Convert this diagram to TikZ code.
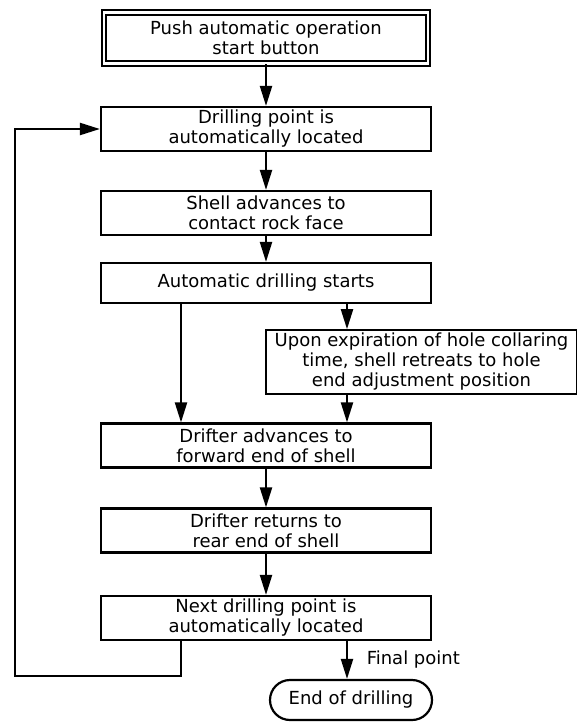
\documentclass[tikz,border=0pt]{standalone}
\usepackage{fontspec}
\setmainfont{DejaVu Sans}
\usetikzlibrary{arrows.meta,shapes.misc}
\tikzset{
  stage/.style={draw,line width=1.1pt,align=center,inner sep=1.5pt,minimum width=165pt,minimum height=22pt,font=\fontsize{9}{10}\selectfont},
  startbox/.style={stage,line width=1pt,double,double distance=1.4pt,minimum width=162pt,minimum height=25.5pt},
  terminal/.style={stage,rounded rectangle,minimum width=84pt,minimum height=20pt},
  stream/.style={line width=1.1pt,-{Triangle[length=10pt,width=6pt]}}
}

\begin{document}
\begin{tikzpicture}[x=0.5pt,y=-0.5pt]
      \useasboundingbox (0,0) rectangle (577,722);
      \node[startbox] (push) at (266,38) {Push automatic operation\\start button};
      \node[stage] (locate) at (266,129) {Drilling point is\\automatically located};
      \node[stage] (contact) at (266,213) {Shell advances to\\contact rock face};
      \node[stage,minimum height=20pt] (drill) at (266,283) {Automatic drilling starts};
      \node[stage,minimum width=155.5pt,minimum height=30pt] (retreat) at (421.5,362) {Upon expiration of hole collaring\\time, shell retreats to hole\\end adjustment position};
      \node[stage] (advance) at (266,445.5) {Drifter advances to\\forward end of shell};
      \node[stage] (return) at (266,530.5) {Drifter returns to\\rear end of shell};
      \node[stage] (next) at (266,618) {Next drilling point is\\automatically located};
      \node[terminal] (end) at (351,700) {End of drilling};

      \coordinate (lane) at (181,0);
      \coordinate (side) at (347,0);
      \coordinate (loop) at (15,676);

      \draw[stream] (push) -- (locate);
      \draw[stream] (locate) -- (contact);
      \draw[stream] (contact) -- (drill);
      \draw[stream] (drill.south -| lane) -- (advance.north -| lane);
      \draw[stream] (drill.south -| side) -- (retreat.north -| side);
      \draw[stream] (retreat.south -| side) -- (advance.north -| side);
      \draw[stream] (advance) -- (return);
      \draw[stream] (return) -- (next);
      \draw[stream] (next.south -| side) -- node[midway,right=6pt,font=\fontsize{9}{10}\selectfont] {Final point} (end.north -| side);
      \draw[stream] (next.south -| lane) |- (loop) |- (locate.west);
    \end{tikzpicture}
\end{document}
